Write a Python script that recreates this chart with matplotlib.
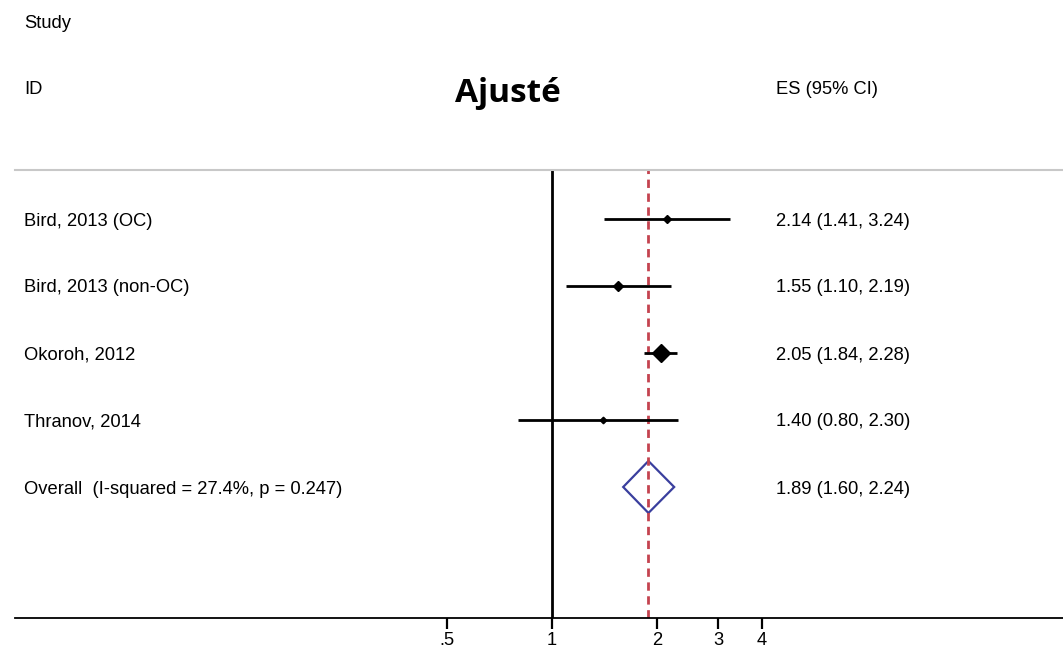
import matplotlib.pyplot as plt
import matplotlib.transforms as mtransforms
import numpy as np

plt.rcParams["font.family"] = ["Liberation Sans", "DejaVu Sans"]

# Data ------------------------------------------------------------------------------- #
studies = ["Bird, 2013 (OC)", "Bird, 2013 (non-OC)", "Okoroh, 2012", "Thranov, 2014"]
es = [2.14, 1.55, 2.05, 1.40]
lo = [1.41, 1.10, 1.84, 0.80]
hi = [3.24, 2.19, 2.28, 2.30]
weights = [12, 20, 60, 8]  # estimated study weights (%)
overall_label = "Overall  (I-squared = 27.4%, p = 0.247)"
overall = (1.89, 1.60, 2.24)
xticks = [0.5, 1, 2, 3, 4]
xticklabels = [".5", "1", "2", "3", "4"]

FS = 13.2

# Figure ----------------------------------------------------------------------------- #
W, H = 1063, 653
fig = plt.figure(figsize=(W / 100, H / 100), dpi=100)
# axes from px x=15..1063, y=170..618 (top-down)
ax = fig.add_axes([15 / W, (H - 618) / H, (W - 15) / W, (618 - 170) / H])
ax.set_xscale("log", base=2)
px_per_unit = 105.0
ax.set_xlim(2 ** ((15 - 552) / px_per_unit), 2 ** ((1063 - 552) / px_per_unit))
row_px = 67.0
top = 1 - (219 - 170) / row_px
ax.set_ylim(top + (618 - 170) / row_px, top)

ax.spines["left"].set_visible(False)
ax.spines["right"].set_visible(False)
ax.spines["top"].set_color("#c8c8c8")
ax.spines["top"].set_linewidth(1.5)
ax.spines["bottom"].set_linewidth(1.3)
ax.set_yticks([])
ax.set_xticks(xticks)
ax.set_xticklabels(xticklabels, fontsize=FS)
ax.xaxis.set_minor_locator(plt.NullLocator())
ax.tick_params(axis="x", length=8, width=1.6, pad=2)

# reference lines
ax.axvline(1, color="black", lw=2)
ax.axvline(overall[0], color="#c4434f", lw=2, ls=(0, (3, 2)))

rows = np.arange(1, len(studies) + 1)
sizes = np.sqrt(np.array(weights)) * 1.18
for y, e, l, h, s in zip(rows, es, lo, hi, sizes):
    ax.plot([l, h], [y, y], color="black", lw=2, solid_capstyle="butt")
    ax.plot(e, y, marker="D", ms=s, color="black", mec="black")

# overall diamond
yo = len(studies) + 1
half = 26 / row_px
ax.fill(
    [overall[1], overall[0], overall[2], overall[0]],
    [yo, yo - half, yo, yo + half],
    facecolor="none",
    edgecolor="#3a3f9e",
    lw=1.6,
)

# text ------------------------------------------------------------------------------- #
trans = mtransforms.blended_transform_factory(fig.transFigure, ax.transData)
labels = studies + [overall_label]
texts = [f"{e:.2f} ({l:.2f}, {h:.2f})" for e, l, h in zip(es, lo, hi)]
texts.append(f"{overall[0]:.2f} ({overall[1]:.2f}, {overall[2]:.2f})")
for y, lab, t in zip(list(rows) + [yo], labels, texts):
    ax.text(24 / W, y, lab, transform=trans, ha="left", va="center_baseline",
            fontsize=FS)
    ax.text(776 / W, y, t, transform=trans, ha="left", va="center_baseline",
            fontsize=FS)

fig.text(24 / W, 1 - 21 / H, "Study", ha="left", va="center_baseline", fontsize=FS)
fig.text(24 / W, 1 - 88 / H, "ID", ha="left", va="center_baseline", fontsize=FS)
fig.text(776 / W, 1 - 88 / H, "ES (95% CI)", ha="left", va="center_baseline",
         fontsize=FS)
fig.text(508 / W, 1 - 89 / H, "Ajusté", ha="center", va="center_baseline",
         fontsize=24, fontweight="bold", family=["Open Sans", "DejaVu Sans"])

fig.savefig("out.png", dpi=100)
